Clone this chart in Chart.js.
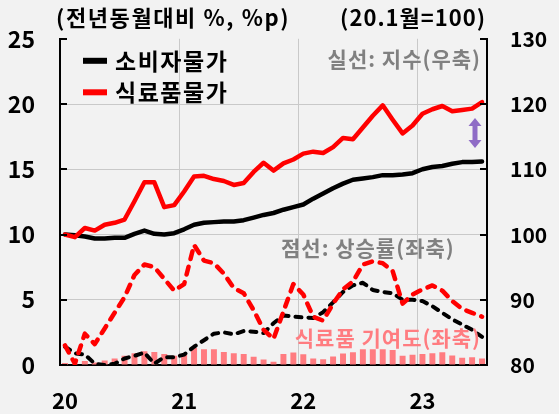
<!DOCTYPE html>
<html>
<head>
<meta charset="utf-8">
<script src="https://cdn.jsdelivr.net/npm/chart.js@4.4.0/dist/chart.umd.min.js"></script>
<style>
html,body{margin:0;padding:0;background:#f2f2f2;}
#wrap{position:relative;width:559px;height:414px;}
canvas{display:block;}
</style>
</head>
<body>
<div id="wrap"><canvas id="c" width="559" height="414"></canvas></div>
<script>
const months = ['20.1','20.2','20.3','20.4','20.5','20.6','20.7','20.8','20.9','20.10','20.11','20.12',
  '21.1','21.2','21.3','21.4','21.5','21.6','21.7','21.8','21.9','21.10','21.11','21.12',
  '22.1','22.2','22.3','22.4','22.5','22.6','22.7','22.8','22.9','22.10','22.11','22.12',
  '23.1','23.2','23.3','23.4','23.5','23.6','23.7'];
const yearTicks = ['20','21','22','23'];

// solid lines: index (20.1 = 100), right axis
const cpiIndex = [100.0, 99.9, 99.7, 99.4, 99.4, 99.5, 99.5, 100.1, 100.6, 100.1, 100.0, 100.2,
  100.8, 101.5, 101.8, 101.9, 102.0, 102.0, 102.2, 102.6, 103.0, 103.3, 103.8, 104.2,
  104.6, 105.5, 106.3, 107.1, 107.8, 108.4, 108.6, 108.8, 109.1, 109.1, 109.2, 109.4,
  110.0, 110.35, 110.5, 110.85, 111.1, 111.1, 111.2];
const foodIndex = [100.0, 99.6, 101.0, 100.6, 101.5, 101.8, 102.3, 105.1, 108.0, 108.0, 104.2, 104.5,
  106.6, 108.9, 109.0, 108.5, 108.2, 107.6, 107.9, 109.6, 111.0, 109.8, 110.9, 111.5,
  112.4, 112.7, 112.5, 113.4, 114.8, 114.6, 116.4, 118.2, 119.8, 117.6, 115.5, 116.7,
  118.5, 119.2, 119.7, 118.9, 119.1, 119.3, 120.3];

// dashed lines: year-on-year rate (%), left axis
const cpiRate = [1.4, 0.9, 0.8, 0.1, 0.0, 0.1, 0.5, 0.7, 0.95, 0.1, 0.6, 0.6,
  0.8, 1.4, 1.9, 2.4, 2.5, 2.35, 2.6, 2.55, 2.45, 3.2, 3.8, 3.7,
  3.65, 3.6, 4.05, 4.8, 5.6, 6.1, 6.3, 5.75, 5.6, 5.5, 5.0, 5.0,
  4.9, 4.5, 4.0, 3.5, 3.1, 2.7, 2.15];
const foodRate = [1.5, 0.1, 2.4, 1.6, 2.8, 4.0, 5.2, 6.9, 7.7, 7.5, 6.6, 5.7,
  6.2, 9.2, 8.0, 7.8, 7.0, 5.9, 5.5, 4.2, 2.7, 2.0, 4.1, 6.2,
  5.4, 3.7, 3.4, 4.7, 5.8, 6.4, 7.7, 7.95, 7.8, 7.2, 4.7, 5.4,
  5.8, 6.1, 5.7, 4.9, 4.3, 4.0, 3.7];

// bars: food contribution (%p), left axis
const foodContribution = [0.15, 0.02, 0.3, 0.2, 0.35, 0.5, 0.7, 0.9, 1.05, 1.0, 0.85, 0.7,
  0.8, 1.3, 1.2, 1.2, 1.0, 0.9, 0.85, 0.63, 0.43, 0.25, 0.85, 0.95,
  0.82, 0.5, 0.45, 0.65, 0.88, 0.98, 1.2, 1.2, 1.2, 1.15, 0.7, 0.78,
  0.85, 0.9, 0.97, 0.72, 0.56, 0.6, 0.5];

const legendItems = ['소비자물가', '식료품물가'];
const legendColors = ['#000000', '#ff0000'];
const headerLeft = '(전년동월대비 %, %p)';
const headerRight = '(20.1월=100)';
const noteSolid = '실선: 지수(우축)';
const noteDashed = '점선: 상승률(좌축)';
const noteBars = '식료품 기여도(좌축)';

const FONT = '"Noto Sans CJK KR", "Noto Sans", sans-serif';
const GRID = '#c9c9c9';

const decor = {
  id: 'decor',
  afterDraw(chart) {
    const ctx = chart.ctx;
    const ca = chart.chartArea;
    const yS = chart.scales.y;
    ctx.save();
    // inward tick marks on both vertical axes
    ctx.strokeStyle = '#000';
    ctx.lineWidth = 2;
    [0, 5, 10, 15, 20, 25].forEach(v => {
      const py = Math.round(yS.getPixelForValue(v));
      ctx.beginPath();
      ctx.moveTo(ca.left, py); ctx.lineTo(ca.left + 7, py);
      ctx.moveTo(ca.right - 7, py); ctx.lineTo(ca.right, py);
      ctx.stroke();
    });
    // header texts
    ctx.fillStyle = '#000';
    ctx.textBaseline = 'middle';
    ctx.font = 'bold 22px ' + FONT;
    ctx.letterSpacing = '1.6px';
    ctx.textAlign = 'left';
    ctx.fillText(headerLeft, 56, 18);
    ctx.letterSpacing = '1px';
    ctx.textAlign = 'right';
    ctx.fillText(headerRight, 486, 18);
    // legend
    ctx.font = 'bold 23px ' + FONT;
    ctx.letterSpacing = '1.5px';
    ctx.textAlign = 'left';
    legendItems.forEach((t, i) => {
      const cy = ca.top + 22 + i * 31.5;
      ctx.fillStyle = legendColors[i];
      ctx.fillRect(ca.left + 23, cy - 3, 24, 6);
      ctx.fillStyle = '#000';
      ctx.fillText(t, ca.left + 55, cy);
    });
    // notes
    ctx.font = 'bold 21px ' + FONT;
    ctx.letterSpacing = '1px';
    ctx.fillStyle = '#808080';
    ctx.textAlign = 'right';
    ctx.fillText(noteSolid, ca.right - 6, ca.top + 20);
    ctx.textAlign = 'left';
    ctx.fillText(noteDashed, 281, yS.getPixelForValue(9.0));
    ctx.fillStyle = '#ff7c80';
    ctx.textAlign = 'right';
    ctx.fillText(noteBars, ca.right - 6, yS.getPixelForValue(2.03));
    ctx.letterSpacing = '0px';
    // purple double arrow
    const ax = ca.right - 12, top = 118, bot = 148;
    ctx.fillStyle = '#8f6cc6';
    ctx.beginPath();
    ctx.moveTo(ax, top);
    ctx.lineTo(ax + 6.5, top + 8);
    ctx.lineTo(ax + 2.5, top + 8);
    ctx.lineTo(ax + 2.5, bot - 8);
    ctx.lineTo(ax + 6.5, bot - 8);
    ctx.lineTo(ax, bot);
    ctx.lineTo(ax - 6.5, bot - 8);
    ctx.lineTo(ax - 2.5, bot - 8);
    ctx.lineTo(ax - 2.5, top + 8);
    ctx.lineTo(ax - 6.5, top + 8);
    ctx.closePath();
    ctx.fill();
    ctx.restore();
  }
};

new Chart(document.getElementById('c'), {
  type: 'bar',
  data: {
    labels: months,
    datasets: [
      { type: 'line', label: '식료품물가', data: foodIndex, yAxisID: 'y2', borderColor: '#ff0000',
        borderWidth: 4.5, pointRadius: 0, tension: 0, borderJoinStyle: 'round', borderCapStyle: 'round', order: 1 },
      { type: 'line', label: '소비자물가', data: cpiIndex, yAxisID: 'y2', borderColor: '#000000',
        borderWidth: 4.5, pointRadius: 0, tension: 0, borderJoinStyle: 'round', borderCapStyle: 'round', order: 2 },
      { type: 'line', label: '식료품 상승률', data: foodRate, yAxisID: 'y', borderColor: '#ff0000',
        borderWidth: 4.5, borderDash: [8, 8], pointRadius: 0, tension: 0, borderJoinStyle: 'round', borderCapStyle: 'round', order: 3 },
      { type: 'line', label: '소비자물가 상승률', data: cpiRate, yAxisID: 'y', borderColor: '#000000',
        borderWidth: 4, borderDash: [6, 7], pointRadius: 0, tension: 0, borderJoinStyle: 'round', borderCapStyle: 'round', order: 4 },
      { type: 'bar', label: '식료품 기여도', data: foodContribution, yAxisID: 'y', backgroundColor: '#ff7c80',
        borderWidth: 0, barPercentage: 0.6, categoryPercentage: 1.0, order: 5 }
    ]
  },
  options: {
    responsive: false,
    animation: false,
    layout: { padding: { top: 35, left: 0, right: 0, bottom: 0 } },
    plugins: { legend: { display: false }, tooltip: { enabled: false }, title: { display: false } },
    scales: {
      x: {
        type: 'category',
        offset: true,
        grid: {
          offset: true,
          drawTicks: false,
          lineWidth: 1,
          color: ctx => (ctx.index > 0 && ctx.index % 12 === 0) ? GRID : 'rgba(0,0,0,0)'
        },
        border: { display: true, color: '#000', width: 2 },
        ticks: {
          autoSkip: false, maxRotation: 0, minRotation: 0, padding: 22, color: '#000',
          font: { family: FONT, size: 22, weight: 'bold' },
          callback: (v, i) => (i % 12 === 0 ? yearTicks[i / 12] : '')
        },
        afterFit: s => { s.height = 49; }
      },
      y: {
        position: 'left',
        min: 0, max: 25,
        grid: {
          drawTicks: false,
          lineWidth: 1,
          color: ctx => (ctx.tick && ctx.tick.value > 0 && ctx.tick.value < 25) ? GRID : 'rgba(0,0,0,0)'
        },
        border: { display: true, color: '#000', width: 2 },
        ticks: { stepSize: 5, padding: 25, color: '#000', font: { family: FONT, size: 23, weight: 'bold' } },
        afterFit: s => { s.width = 60; }
      },
      y2: {
        position: 'right',
        min: 80, max: 130,
        grid: { drawOnChartArea: false, drawTicks: false },
        border: { display: true, color: '#000', width: 2 },
        ticks: { stepSize: 10, padding: 23, color: '#000', font: { family: FONT, size: 21, weight: 'bold' } },
        afterFit: s => { s.width = 72; }
      }
    }
  },
  plugins: [decor]
});
</script>
</body>
</html>
